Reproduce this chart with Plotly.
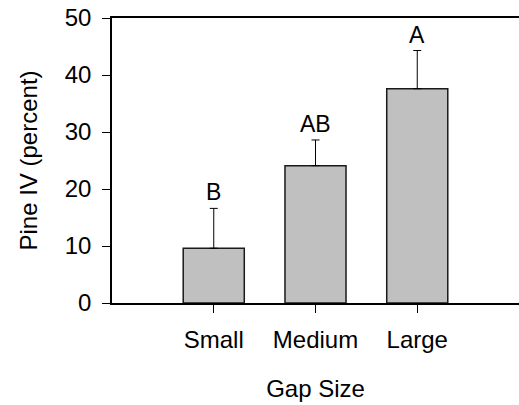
import plotly.graph_objects as go

categories = ["Small", "Medium", "Large"]
means = [9.6, 24.1, 37.6]
err_plus = [7.0, 4.5, 6.7]
letters = ["B", "AB", "A"]
yticks = [0, 10, 20, 30, 40, 50]

FONT = "Arial, Liberation Sans, sans-serif"
tick_fs = 24
title_fs = 24
letter_fs = 23

fig = go.Figure()
fig.add_trace(go.Bar(
    x=list(range(len(categories))), y=means, width=0.6,
    marker=dict(color="#c0c0c0", line=dict(color="#1a1a1a", width=1.5)),
    error_y=dict(type="data", symmetric=False, array=err_plus,
                 arrayminus=[0] * len(means), color="black", thickness=1, width=4),
))

for i, (m, e, t) in enumerate(zip(means, err_plus, letters)):
    fig.add_annotation(x=i, y=m + e + 2.8, text=t, showarrow=False,
                       yanchor="middle", xanchor="center",
                       font=dict(family=FONT, size=letter_fs, color="black"))

fig.update_layout(
    width=519, height=405,
    margin=dict(l=112, r=0, t=18, b=102, pad=0),
    plot_bgcolor="white", paper_bgcolor="white",
    showlegend=False,
    font=dict(family=FONT, size=tick_fs, color="black"),
    xaxis=dict(range=[-1, 3], tickvals=list(range(len(categories))), ticktext=categories,
               showline=True, linecolor="black", linewidth=1.5, mirror=True,
               ticks="outside", ticklen=8, tickcolor="black", tickwidth=1,
               showgrid=False, zeroline=False, ticklabelstandoff=6,
               tickfont=dict(size=tick_fs),
               title=dict(text="Gap Size", standoff=29, font=dict(size=title_fs))),
    yaxis=dict(range=[0, 50], tickvals=yticks,
               showline=True, linecolor="black", linewidth=1.5, mirror=False,
               ticks="outside", ticklen=8, tickcolor="black", tickwidth=1,
               showgrid=False, zeroline=False, ticklabelstandoff=6,
               tickfont=dict(size=tick_fs),
               title=dict(text="Pine IV (percent)", standoff=20, font=dict(size=title_fs))),
)

fig.write_html("out.html")
